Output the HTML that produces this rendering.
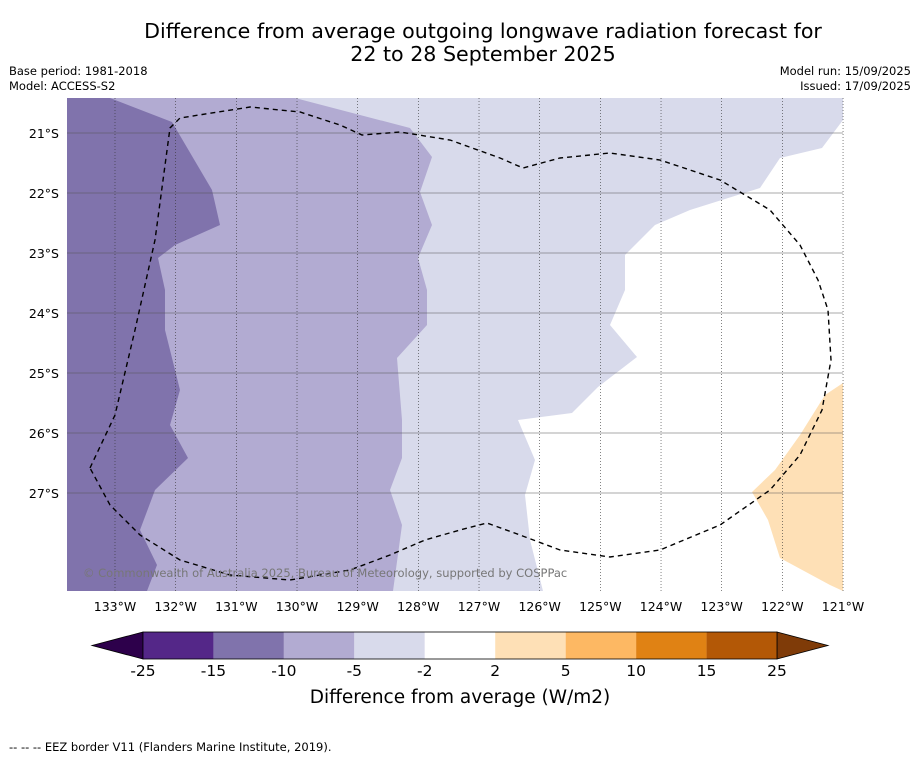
<!DOCTYPE html>
<html><head><meta charset="utf-8"><style>
body{margin:0;background:#fff;font-family:"DejaVu Sans","Liberation Sans",sans-serif}
svg{display:block}
text{font-family:"DejaVu Sans","Liberation Sans",sans-serif}
</style></head><body>
<svg width="919" height="758" viewBox="0 0 919 758">
<text x="483" y="38" font-size="20.6" text-anchor="middle">Difference from average outgoing longwave radiation forecast for</text>
<text x="483" y="61" font-size="20.6" text-anchor="middle">22 to 28 September 2025</text>
<text x="9" y="75" font-size="11.5">Base period: 1981-2018</text>
<text x="9" y="90" font-size="11.5">Model: ACCESS-S2</text>
<text x="911" y="75" font-size="11.5" text-anchor="end">Model run: 15/09/2025</text>
<text x="911" y="90" font-size="11.5" text-anchor="end">Issued: 17/09/2025</text>
<g id="map"></g>
<g id="cbar"></g>
<text x="460" y="703" font-size="18.5" text-anchor="middle">Difference from average (W/m2)</text>
<text x="9" y="751" font-size="11.5">--  --  -- EEZ border V11 (Flanders Marine Institute, 2019).</text>
</svg>
<script>
const lonTicks=[-133,-132,-131,-130,-129,-128,-127,-126,-125,-124,-123,-122,-121];
const latTicks=[-21,-22,-23,-24,-25,-26,-27];
const levels=[-25,-15,-10,-5,-2,2,5,10,15,25];
const colors=['#542788','#8073ac','#b2abd2','#d8daeb','#ffffff','#fee0b6','#fdb863','#e08214','#b35806'];
const whiteRegion=[[843,120],[822,148],[780,158],[760,188],[690,210],[655,225],[625,255],[625,290],[610,325],[637,357],[598,387],[572,413],[518,420],[535,460],[525,495],[530,540],[543,591],[843,591]];
const orangeRegion=[[843,383],[825,395],[800,435],[775,470],[752,492],[768,520],[780,558],[830,585],[843,591]];
const medRegion=[[67,98],[295,98],[410,128],[432,157],[420,192],[432,225],[418,258],[427,290],[427,325],[397,358],[402,420],[402,458],[390,490],[402,525],[393,591],[67,591]];
const darkRegion=[[67,98],[110,98],[172,122],[212,190],[220,225],[175,245],[158,258],[165,290],[165,330],[180,390],[170,425],[188,458],[155,490],[140,530],[157,565],[147,591],[67,591]];
const eez=[[90,468],[115,415],[135,330],[155,240],[170,128],[180,118],[250,107],[300,112],[340,125],[362,135],[400,132],[450,140],[500,158],[523,168],[560,158],[610,153],[660,160],[720,180],[770,210],[800,245],[818,280],[828,310],[831,360],[822,410],[800,455],[770,490],[720,525],[660,550],[610,557],[560,550],[520,535],[487,523],[460,530],[425,540],[390,555],[350,570],[290,580],[230,575],[180,560],[140,535],[110,505],[90,468]];
const NS='http://www.w3.org/2000/svg';
function el(t,a,p){const e=document.createElementNS(NS,t);for(const k in a)e.setAttribute(k,a[k]);p.appendChild(e);return e;}
const X0=67,X1=843,Y0=98,Y1=591;
const xs=lon=>115+(lon+133)*60.67;
const ys=lat=>133+(-21-lat)*60;
const map=document.getElementById('map');
const pts=a=>a.map(p=>p.join(',')).join(' ');
let r=el('rect',{x:X0,y:Y0,width:X1-X0,height:Y1-Y0,fill:colors[3]},map);

[[whiteRegion,colors[4],'region-near-average'],[orangeRegion,colors[5],'region-positive'],[medRegion,colors[2],'region-minus-5-10'],[darkRegion,colors[1],'region-minus-10-15']].forEach(([p,c,n])=>{
 const e=el('polygon',{points:pts(p),fill:c},map);
 
 
});
lonTicks.forEach(l=>{
 const x=xs(l);
 const g=el('line',{x1:x,x2:x,y1:Y0,y2:Y1,stroke:'#333','stroke-width':0.6,'stroke-dasharray':'1,2'},map);
 
 const t=el('text',{x:x,y:611,'font-size':12.5,'text-anchor':'middle'},map);t.textContent=(-l)+'°W';
 
});
latTicks.forEach(l=>{
 const y=ys(l);
 const g=el('line',{x1:X0,x2:X1,y1:y,y2:y,stroke:'#555','stroke-width':0.5},map);
 
 const t=el('text',{x:59,y:y+5,'font-size':12.5,'text-anchor':'end'},map);t.textContent=(-l)+'°S';
 
});
const pl=el('polyline',{points:pts(eez),fill:'none',stroke:'#000','stroke-width':1.4,'stroke-dasharray':'5,4'},map);

const cp=el('text',{x:83,y:577,'font-size':11.5,fill:'#777'},map);cp.textContent='© Commonwealth of Australia 2025, Bureau of Meteorology, supported by COSPPac';

const cb=document.getElementById('cbar');
const bx0=143,bx1=777,by=632,bh=27,bw=(bx1-bx0)/colors.length;
const lt=el('polygon',{points:`${bx0},${by} ${bx0},${by+bh} 92,${by+bh/2}`,fill:'#2d004b',stroke:'#000','stroke-width':0.8},cb);

const rt=el('polygon',{points:`${bx1},${by} ${bx1},${by+bh} 828,${by+bh/2}`,fill:'#7f3b08',stroke:'#000','stroke-width':0.8},cb);

colors.forEach((c,i)=>{
 const b=el('rect',{x:bx0+i*bw,y:by,width:bw,height:bh,fill:c},cb);
 
});
const fr=el('rect',{x:bx0,y:by,width:bx1-bx0,height:bh,fill:'none',stroke:'#000','stroke-width':0.8},cb);

levels.forEach((v,i)=>{
 const x=bx0+i*bw;
 const t=el('text',{x:x,y:676,'font-size':15.5,'text-anchor':'middle'},cb);t.textContent=v;
 
});
</script>
</body></html>
